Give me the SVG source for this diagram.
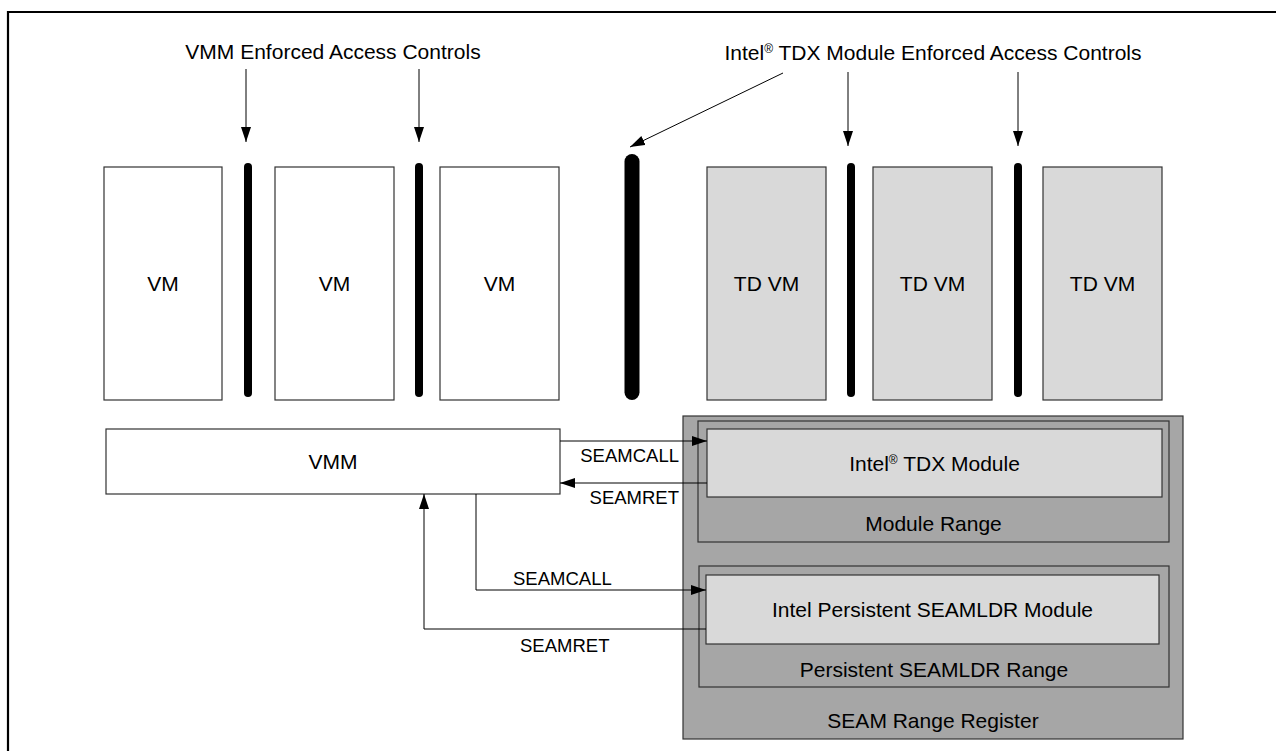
<svg xmlns="http://www.w3.org/2000/svg" width="1276" height="751" viewBox="0 0 1276 751">
<style>
text{font-family:"Liberation Sans",Arial,sans-serif;fill:#000}
.big{font-size:21px;text-anchor:middle}
.sm{font-size:18.5px}
.vm{fill:#fff;stroke:#333;stroke-width:1.2}
.td{fill:#d9d9d9;stroke:#333;stroke-width:1.2}
.rng{fill:#a6a6a6;stroke:#333;stroke-width:1.2}
.mod{fill:#d9d9d9;stroke:#333;stroke-width:1.2}
.bar{stroke:#000;stroke-linecap:round;fill:none}
.ln{stroke:#000;stroke-width:1;fill:none}
</style>
<defs>
<marker id="ah" markerUnits="userSpaceOnUse" markerWidth="16" markerHeight="11" refX="15" refY="5" orient="auto">
<path d="M0,0 L15,5 L0,10 z" fill="#000"/>
</marker>
</defs>
<rect width="1276" height="751" fill="#fff"/>
<path d="M8,751 L8,12 L1276,12" fill="none" stroke="#000" stroke-width="2.2"/>

<g id="label-vmm-controls"><text class="big" x="333" y="59">VMM Enforced Access Controls</text></g>
<g id="label-tdx-controls"><text class="big" x="933" y="60">Intel<tspan font-size="12" baseline-shift="super">®</tspan> TDX Module Enforced Access Controls</text></g>

<g id="vm1"><rect class="vm" x="104" y="167" width="118" height="233"/><text class="big" x="163" y="291">VM</text></g>
<g id="vm2"><rect class="vm" x="275" y="167" width="119" height="233"/><text class="big" x="334.5" y="291">VM</text></g>
<g id="vm3"><rect class="vm" x="440" y="167" width="119" height="233"/><text class="big" x="499.5" y="291">VM</text></g>
<g id="tdvm1"><rect class="td" x="707" y="167" width="119" height="233"/><text class="big" x="766.5" y="291">TD VM</text></g>
<g id="tdvm2"><rect class="td" x="873" y="167" width="119" height="233"/><text class="big" x="932.5" y="291">TD VM</text></g>
<g id="tdvm3"><rect class="td" x="1043" y="167" width="119" height="233"/><text class="big" x="1102.5" y="291">TD VM</text></g>

<g id="barriers">
<line class="bar" x1="248" y1="167" x2="248" y2="393" stroke-width="8"/>
<line class="bar" x1="419" y1="167" x2="419" y2="393" stroke-width="8"/>
<line class="bar" x1="632" y1="161.5" x2="632" y2="392.5" stroke-width="15"/>
<line class="bar" x1="851" y1="167" x2="851" y2="393" stroke-width="8"/>
<line class="bar" x1="1018" y1="167" x2="1018" y2="393" stroke-width="8"/>
</g>

<g id="vmm"><rect class="vm" x="106" y="429" width="454" height="65"/><text class="big" x="333" y="469">VMM</text></g>

<g id="seam-range-register">
<rect class="rng" x="683" y="416" width="500" height="323"/>
<text class="big" x="933" y="728">SEAM Range Register</text>
</g>
<g id="module-range">
<rect class="rng" x="698" y="421" width="471" height="121"/>
<text class="big" x="933.5" y="531">Module Range</text>
</g>
<g id="tdx-module">
<rect class="mod" x="707" y="429" width="455" height="68"/>
<text class="big" x="934.5" y="471">Intel<tspan font-size="12" baseline-shift="super">®</tspan> TDX Module</text>
</g>
<g id="persistent-range">
<rect class="rng" x="699" y="566" width="470" height="121"/>
<text class="big" x="934" y="677">Persistent SEAMLDR Range</text>
</g>
<g id="seamldr-module">
<rect class="mod" x="706" y="575" width="453" height="69"/>
<text class="big" x="932.5" y="617">Intel Persistent SEAMLDR Module</text>
</g>

<g id="connectors">
<line class="ln" x1="246" y1="69" x2="246" y2="142" marker-end="url(#ah)"/>
<line class="ln" x1="419" y1="69" x2="419" y2="142" marker-end="url(#ah)"/>
<line class="ln" x1="783" y1="73" x2="630" y2="147" marker-end="url(#ah)"/>
<line class="ln" x1="848" y1="72" x2="848" y2="146" marker-end="url(#ah)"/>
<line class="ln" x1="1018" y1="72" x2="1018" y2="146" marker-end="url(#ah)"/>
<line class="ln" x1="560" y1="441" x2="707" y2="441" marker-end="url(#ah)"/>
<line class="ln" x1="707" y1="483" x2="560" y2="483" marker-end="url(#ah)"/>
<polyline class="ln" points="476,494 476,590 706,590" marker-end="url(#ah)"/>
<polyline class="ln" points="706,629 424,629 424,494" marker-end="url(#ah)"/>
<text class="sm" x="679" y="462" text-anchor="end">SEAMCALL</text>
<text class="sm" x="679" y="504" text-anchor="end">SEAMRET</text>
<text class="sm" x="513" y="585">SEAMCALL</text>
<text class="sm" x="520" y="652">SEAMRET</text>
</g>
</svg>
